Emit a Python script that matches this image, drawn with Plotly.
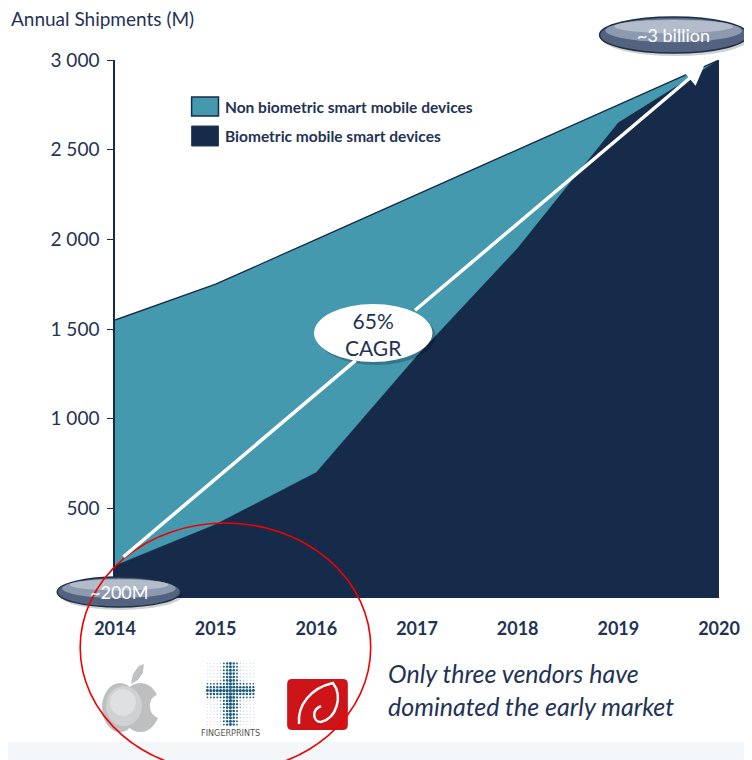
import math
import plotly.graph_objects as go

# ---------------- data ----------------
years = [2014, 2015, 2016, 2017, 2018, 2019, 2020]
total_devices = [1550, 1750, 2000, 2250, 2500, 2750, 3000]       # all smart mobile devices (M)
biometric_devices = [180, 410, 700, 1350, 1950, 2650, 3000]     # biometric smart mobile devices (M)
y_tick_vals = [500, 1000, 1500, 2000, 2500, 3000]
y_tick_text = ["500", "1 000", "1 500", "2 000", "2 500", "3 000"]
series_names = ["Non biometric smart mobile devices", "Biometric mobile smart devices"]

# ---------------- style ----------------
TEAL = "#4499AE"
NAVY = "#162B4A"
TXT = "#1F3354"
FONT = "Lato"

OFF = 8                      # page body margin
W, H = 752 - OFF, 760 - OFF
L, T = 115 - OFF, 60 - OFF
B = H - (598 - OFF)
R = W - (722 - OFF)
PW, PH = W - L - R, H - T - B


def px(x):
    return (x - OFF - L) / PW


def py(y):
    return (H - B - (y - OFF)) / PH


def ell(x0, y0, x1, y1, **kw):
    d = dict(type="circle", xref="paper", yref="paper",
             x0=px(x0), x1=px(x1), y0=py(y1), y1=py(y0))
    d.update(kw)
    return d


def rect(x0, y0, x1, y1, **kw):
    d = dict(type="rect", xref="paper", yref="paper",
             x0=px(x0), x1=px(x1), y0=py(y1), y1=py(y0))
    d.update(kw)
    return d


def path(points, close=True, **kw):
    s = "M " + " L ".join(f"{px(a):.5f},{py(b):.5f}" for a, b in points)
    if close:
        s += " Z"
    d = dict(type="path", xref="paper", yref="paper", path=s)
    d.update(kw)
    return d


def to_data(xp, yp):
    return (years[0] + px(xp) * (years[-1] - years[0]), py(yp) * 3000)


fig = go.Figure()
fig.add_trace(go.Scatter(
    x=years, y=total_devices, name=series_names[0], mode="lines",
    line=dict(color=NAVY, width=1.3), fill="tozeroy", fillcolor=TEAL,
    hoverinfo="skip", showlegend=False))
fig.add_trace(go.Scatter(
    x=years, y=biometric_devices, name=series_names[1], mode="lines",
    line=dict(color=NAVY, width=0.5), fill="tozeroy", fillcolor=NAVY,
    hoverinfo="skip", showlegend=False))

shapes = []
annotations = []

# bottom light band
shapes.append(rect(0, 742, 760, 760, fillcolor="#F4F7FA", line=dict(width=0), layer="below"))

# legend
shapes.append(rect(192, 97, 219, 116, fillcolor=TEAL, line=dict(color=NAVY, width=1.5)))
shapes.append(rect(192, 126, 219, 146, fillcolor=NAVY, line=dict(color="#2A3D5A", width=1)))
for name, yc in zip(series_names, [107, 136]):
    annotations.append(dict(xref="paper", yref="paper", x=px(224), y=py(yc),
                            xanchor="left", yanchor="middle", showarrow=False,
                            text=f"<b>{name}</b>", font=dict(family=FONT, size=15.5, color=TXT)))

# axis title
annotations.append(dict(xref="paper", yref="paper", x=px(8), y=py(18),
                        xanchor="left", yanchor="middle", showarrow=False,
                        text="Annual Shipments (M)", font=dict(family=FONT, size=19, color=TXT)))

# CAGR arrow, split around the ellipse
ax0, ay0 = 122, 558
ax1, ay1 = 707, 66
ecx, ecy, ea, eb = 375, 333, 60, 29
inside = []
N = 2000
for i in range(N + 1):
    t = i / N
    xx = ax0 + (ax1 - ax0) * t
    yy = ay0 + (ay1 - ay0) * t
    if ((xx - ecx) / ea) ** 2 + ((yy - ecy) / eb) ** 2 <= 1:
        inside.append(t)
t_in, t_out = min(inside), max(inside)
p_in = (ax0 + (ax1 - ax0) * t_in, ay0 + (ay1 - ay0) * t_in)
p_out = (ax0 + (ax1 - ax0) * t_out, ay0 + (ay1 - ay0) * t_out)

sx, sy = to_data(ax0, ay0)
ix, iy = to_data(*p_in)
ox, oy = to_data(*p_out)
ex, ey = to_data(ax1, ay1)
annotations.append(dict(x=ix, y=iy, ax=sx, ay=sy, xref="x", yref="y", axref="x", ayref="y",
                        text="", showarrow=True, arrowhead=0, arrowwidth=3.5, arrowcolor="white"))
annotations.append(dict(x=ex, y=ey, ax=ox, ay=oy, xref="x", yref="y", axref="x", ayref="y",
                        text="", showarrow=True, arrowhead=2, arrowsize=1.1, arrowwidth=3.5,
                        arrowcolor="white"))

# 65% CAGR bubble
shapes.append(ell(318, 307, 437, 365, fillcolor="rgba(0,0,0,0.22)", line=dict(width=0)))
shapes.append(ell(315, 304, 434, 362, fillcolor="white", line=dict(width=0)))
annotations.append(dict(xref="paper", yref="paper", x=px(375), y=py(334),
                        xanchor="center", yanchor="middle", showarrow=False,
                        text="65%<br>CAGR", font=dict(family=FONT, size=21, color=TXT)))


def grey_bubble(x0, y0, x1, y1, label):
    shapes.append(ell(x0 + 2, y0 + 3, x1 + 2, y1 + 3, fillcolor="rgba(0,0,0,0.18)", line=dict(width=0)))
    shapes.append(ell(x0, y0, x1, y1, fillcolor="#52627F", line=dict(color="#1C2E4A", width=1.5)))
    h = y1 - y0
    w = x1 - x0
    shapes.append(ell(x0 + 0.04 * w, y0 + 0.06 * h, x1 - 0.04 * w, y1 - 0.3 * h,
                      fillcolor="#8D99AE", line=dict(width=0)))
    shapes.append(ell(x0 + 0.1 * w, y0 + 0.08 * h, x1 - 0.1 * w, y1 - 0.55 * h,
                      fillcolor="#B3BCCA", line=dict(width=0)))
    annotations.append(dict(xref="paper", yref="paper", x=px((x0 + x1) / 2), y=py((y0 + y1) / 2),
                            xanchor="center", yanchor="middle", showarrow=False,
                            text=label, font=dict(family=FONT, size=18, color="white")))


grey_bubble(602, 17, 751, 53, "~3 billion")
grey_bubble(57, 577, 181, 607, "~200M")

# ---- vendor logos (decorative) ----
# apple
shapes.append(ell(102, 683, 138, 732, fillcolor="#BDBFC1", line=dict(width=0)))
shapes.append(ell(121, 683, 160, 732, fillcolor="#BDBFC1", line=dict(width=0)))
shapes.append(ell(106, 686, 142, 726, fillcolor="#CFD1D3", line=dict(width=0)))
shapes.append(ell(110, 689, 136, 716, fillcolor="#DEE0E1", line=dict(width=0)))
shapes.append(ell(150, 694, 172, 718, fillcolor="white", line=dict(width=0)))
shapes.append(path([(131, 684), (133, 674), (139, 666), (144, 664), (143, 673), (138, 680)],
                   fillcolor="#BFC1C3", line=dict(width=0)))

# fingerprints dot grid
cx0, cy0 = 231, 694
for r in range(-9, 10):
    for c in range(-7, 8):
        xx = cx0 + c * 3.3
        yy = cy0 + r * 3.4
        dv = abs(c)
        dh = abs(r + 1)
        strength = max(1 - dv / 3.5, 1 - dh / 3.0, 0)
        edge = 1 - max(abs(c) / 8.0, abs(r) / 10.0)
        rad = 0.45 + 1.0 * strength + 0.3 * edge
        if strength > 0.3:
            col = "#1B5C80"
        elif edge > 0.5:
            col = "#6D9DB8"
        else:
            col = "#AFC6D4"
        shapes.append(ell(xx - rad, yy - rad, xx + rad, yy + rad, fillcolor=col, line=dict(width=0)))
annotations.append(dict(xref="paper", yref="paper", x=px(231), y=py(733),
                        xanchor="center", yanchor="middle", showarrow=False,
                        text="FINGERPRINTS", font=dict(family="DejaVu Sans Condensed, DejaVu Sans", size=9, color="#555")))

# red logo
shapes.append(dict(type="path", xref="paper", yref="paper",
                   path=(f"M {px(293):.5f},{py(679):.5f} L {px(344):.5f},{py(679):.5f} "
                         f"Q {px(349):.5f},{py(679):.5f} {px(349):.5f},{py(684):.5f} "
                         f"L {px(349):.5f},{py(725):.5f} Q {px(349):.5f},{py(730):.5f} {px(344):.5f},{py(730):.5f} "
                         f"L {px(293):.5f},{py(730):.5f} Q {px(288):.5f},{py(730):.5f} {px(288):.5f},{py(725):.5f} "
                         f"L {px(288):.5f},{py(684):.5f} Q {px(288):.5f},{py(679):.5f} {px(293):.5f},{py(679):.5f} Z"),
                   fillcolor="#CC1419", line=dict(width=0)))
shapes.append(dict(type="path", xref="paper", yref="paper",
                   path=(f"M {px(300):.5f},{py(724):.5f} "
                         f"C {px(298):.5f},{py(705):.5f} {px(312):.5f},{py(688):.5f} {px(334):.5f},{py(683):.5f} "
                         f"C {px(344):.5f},{py(696):.5f} {px(338):.5f},{py(718):.5f} {px(322):.5f},{py(722):.5f} "
                         f"C {px(314):.5f},{py(722):.5f} {px(312):.5f},{py(710):.5f} {px(322):.5f},{py(706):.5f}"),
                   line=dict(color="white", width=2.5)))

# red circle around the three vendors
shapes.append(ell(80, 523, 372, 772, line=dict(color="#F00000", width=1.6), fillcolor="rgba(0,0,0,0)"))

# vendor comment
annotations.append(dict(xref="paper", yref="paper", x=px(387), y=py(689),
                        xanchor="left", yanchor="middle", showarrow=False, align="left",
                        text="<i>Only three vendors have<br>dominated the early market</i>",
                        font=dict(family=FONT, size=25, color=TXT)))

fig.update_layout(
    width=W, height=H,
    margin=dict(l=L, r=R, t=T, b=B, pad=0),
    paper_bgcolor="white", plot_bgcolor="white",
    showlegend=False,
    shapes=shapes,
    annotations=annotations,
    xaxis=dict(range=[years[0], years[-1]], tickvals=years,
               ticktext=[f"<b>{y}</b>" for y in years],
               showgrid=False, zeroline=False, showline=False, ticks="",
               ticklabelstandoff=18,
               tickfont=dict(family=FONT, size=18, color=TXT), fixedrange=True),
    yaxis=dict(range=[0, 3000], tickvals=y_tick_vals, ticktext=y_tick_text,
               showgrid=False, zeroline=False, showline=True, linecolor=NAVY, linewidth=1.5,
               ticks="outside", ticklen=6, tickcolor=NAVY, tickwidth=1.2,
               ticklabelstandoff=4,
               tickfont=dict(family=FONT, size=19, color=TXT), fixedrange=True),
)

fig.write_html("out.html")
